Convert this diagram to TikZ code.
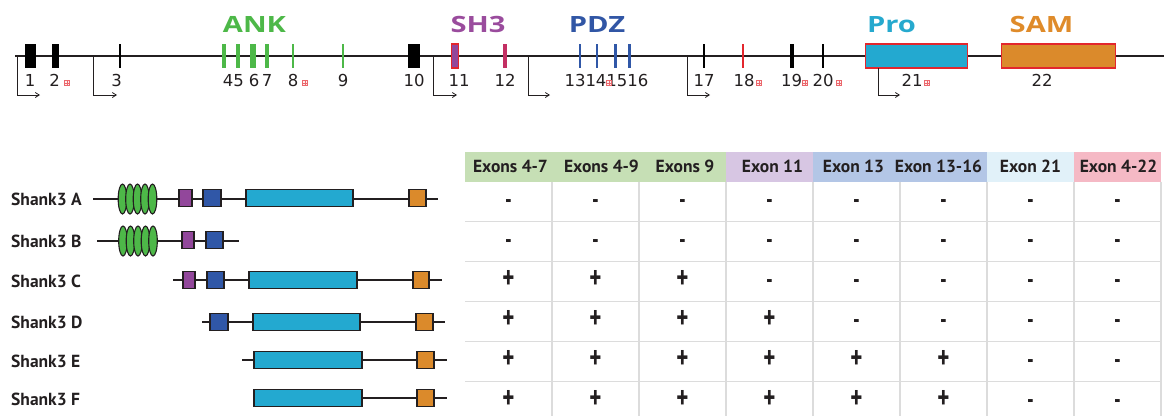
\documentclass[tikz,border=0pt]{standalone}
\usepackage{fontspec}
\setmainfont{PT Sans}
\newfontfamily\domfont[FakeStretch=1.3]{Open Sans}
\newfontfamily\numfont{DejaVu Sans}
\newfontfamily\pmfont[FakeStretch=0.72]{PT Sans}
\usetikzlibrary{shapes.geometric,arrows.meta}
\definecolor{ankG}{HTML}{4DB848}
\definecolor{sh3P}{HTML}{92479B}
\definecolor{pdzB}{HTML}{3057A7}
\definecolor{proC}{HTML}{23A9D0}
\definecolor{samO}{HTML}{DB8A2B}
\definecolor{exRed}{HTML}{E3262D}
\definecolor{exMag}{HTML}{C32F63}
\definecolor{hG}{HTML}{C6DFB5}
\definecolor{hP}{HTML}{D7C6E3}
\definecolor{hB}{HTML}{B3C6E6}
\definecolor{hL}{HTML}{E1F1F9}
\definecolor{hK}{HTML}{F5B9C5}
\definecolor{gridc}{HTML}{DCDCDC}
\definecolor{ink}{HTML}{231F20}
\definecolor{lANK}{HTML}{4DB848}
\definecolor{lSH3}{HTML}{9A4C9D}
\definecolor{lPDZ}{HTML}{3156A5}
\definecolor{lPro}{HTML}{26A9CE}
\definecolor{lSAM}{HTML}{DF8B2A}
\begin{document}
\begin{tikzpicture}[x=1pt,y=-1pt,
  gline/.style={line width=1.2pt, draw=ink},
  exon/.style={rectangle, inner sep=0pt, minimum height=24pt, draw=none},
  redexon/.style={exon, draw=exRed, line width=1.1pt},
  domlab/.style={font=\domfont\bfseries\fontsize{22.4}{24}\selectfont, anchor=base, inner sep=0pt},
  exnum/.style={font=\numfont\fontsize{16.5}{18}\selectfont, anchor=base, inner sep=0pt, text=ink},
  redsq/.style={rectangle, draw=exRed!70, fill=exRed!8, line width=0.4pt, minimum size=5pt, inner sep=0pt,
    path picture={\draw[exRed!70, line width=0.4pt] (path picture bounding box.north) -- (path picture bounding box.south) (path picture bounding box.west) -- (path picture bounding box.east);}},
  prom/.style={-{Straight Barb[length=4pt,width=5pt]}, line width=0.8pt, draw=ink},
  pline/.style={line width=1.2pt, draw=ink},
  pbox/.style={rectangle, draw=ink, line width=1.3pt, inner sep=0pt, minimum height=17pt},
  oval/.style={ellipse, draw=ink, fill=ankG, line width=1.1pt, inner sep=0pt, minimum width=8.6pt, minimum height=30pt},
  rowlab/.style={font=\bfseries\fontsize{17.5}{19}\selectfont, anchor=west, inner sep=0pt, text=ink},
  hdr/.style={font=\bfseries\fontsize{17.5}{19}\selectfont, anchor=base, inner sep=0pt, text=ink},
  gridl/.style={draw=gridc, line width=1.2pt},
  pmbase/.style={inner sep=0pt, text height=0.66em, text depth=0pt, text=ink},
  plus/.style={pmbase, font=\pmfont\bfseries\fontsize{32}{34}\selectfont},
  minus/.style={pmbase, font=\pmfont\bfseries\fontsize{26}{28}\selectfont}
]
\useasboundingbox (0,0) rectangle (1164,416);

% ---------------- gene structure ----------------
\coordinate (gL) at (15,56);
\coordinate (gR) at (1164,56);
\draw[gline] (gL) -- (gR);

\node[exon, fill=black, minimum width=11pt] (e1) at (30.5,56) {};
\node[exon, fill=black, minimum width=7pt] (e2) at (55.5,56) {};
\node[exon, fill=black, minimum width=1.6pt] (e3) at (120,56) {};
\node[exon, fill=ankG, minimum width=4pt] (e4) at (224,56) {};
\node[exon, fill=ankG, minimum width=4pt] (e5) at (238,56) {};
\node[exon, fill=ankG, minimum width=6pt] (e6) at (253,56) {};
\node[exon, fill=ankG, minimum width=3.5pt] (e7) at (267,56) {};
\node[exon, fill=ankG, minimum width=2.5pt] (e8) at (293,56) {};
\node[exon, fill=ankG, minimum width=2.5pt] (e9) at (343,56) {};
\node[exon, fill=black, minimum width=12pt] (e10) at (414,56) {};
\node[redexon, fill=sh3P, minimum width=7pt] (e11) at (455,56) {};
\node[exon, fill=exMag, minimum width=4.5pt] (e12) at (505,56) {};
\node[exon, fill=pdzB, minimum width=2pt] (e13) at (580,56) {};
\node[exon, fill=pdzB, minimum width=2pt] (e14) at (597,56) {};
\node[exon, fill=pdzB, minimum width=3pt] (e15) at (615,56) {};
\node[exon, fill=pdzB, minimum width=3pt] (e16) at (629,56) {};
\node[exon, fill=black, minimum width=2.5pt] (e17) at (704,56) {};
\node[exon, fill=exRed, minimum width=2pt] (e18) at (743,56) {};
\node[exon, fill=black, minimum width=4pt] (e19) at (792,56) {};
\node[exon, fill=black, minimum width=2.5pt] (e20) at (823,56) {};
\node[redexon, fill=proC, minimum width=102pt] (e21) at (916.5,56) {};
\node[redexon, fill=samO, minimum width=114pt] (e22) at (1058.5,56) {};

% domain labels
\node[domlab, text=lANK] (dANK) at (254.5,32) {ANK};
\node[domlab, text=lSH3] (dSH3) at (478,32) {SH3};
\node[domlab, text=lPDZ] (dPDZ) at (597,32) {PDZ};
\node[domlab, text=lPro] (dPro) at (891.5,32) {Pro};
\node[domlab, text=lSAM] (dSAM) at (1041.5,32) {SAM};

% exon numbers
\node[exnum] (n1) at (30,86) {1};
\node[exnum] (n2) at (54.5,86) {2};
\node[exnum] (n3) at (116.5,86) {3};
\node[exnum] (n4) at (228,86) {4};
\node[exnum] (n5) at (238.5,86) {5};
\node[exnum] (n6) at (254,86) {6};
\node[exnum] (n7) at (267,86) {7};
\node[exnum] (n8) at (293,86) {8};
\node[exnum] (n9) at (343,86) {9};
\node[exnum] (n10) at (414,86) {10};
\node[exnum] (n11) at (459,86) {11};
\node[exnum] (n12) at (505,86) {12};
\node[exnum] (n13) at (606.5,86) {13141516};
\node[exnum] (n17) at (704,86) {17};
\node[exnum] (n18) at (744,86) {18};
\node[exnum] (n19) at (791.5,86) {19};
\node[exnum] (n20) at (823,86) {20};
\node[exnum] (n21) at (912,86) {21};
\node[exnum] (n22) at (1042,86) {22};

% small red markers
\node[redsq] (r2) at (67,83) {};
\node[redsq] (r8) at (305,83) {};
\node[redsq] (r14) at (609,83) {};
\node[redsq] (r18) at (759,83) {};
\node[redsq] (r19) at (805,83) {};
\node[redsq] (r20) at (839,83) {};
\node[redsq] (r21) at (927,83) {};

% promoter arrows
\coordinate (p1a) at (17,56);  \coordinate (p1b) at (40,95);
\coordinate (p2a) at (93,56);  \coordinate (p2b) at (117,95);
\coordinate (p3a) at (433,56); \coordinate (p3b) at (457,95);
\coordinate (p4a) at (528,56); \coordinate (p4b) at (550,95);
\coordinate (p5a) at (687,56); \coordinate (p5b) at (710,95);
\coordinate (p6a) at (878,68); \coordinate (p6b) at (900,95);
\foreach \k in {1,...,6}{\draw[prom] (p\k a) |- (p\k b);}

% ---------------- protein isoforms ----------------
\node[rowlab] (lA) at (11,199) {Shank3 A};
\node[rowlab] (lB) at (11,241) {Shank3 B};
\node[rowlab] (lC) at (11,281) {Shank3 C};
\node[rowlab] (lD) at (11,322) {Shank3 D};
\node[rowlab] (lE) at (11,361) {Shank3 E};
\node[rowlab] (lF) at (11,399) {Shank3 F};

% A
\coordinate (aL) at (93,199); \coordinate (aR) at (438,199);
\draw[pline] (aL) -- (aR);
\foreach \i/\x in {1/122.5,2/130,3/137.5,4/145,5/152.5}{\node[oval] (aO\i) at (\x,199) {};}
\node[pbox, fill=sh3P, minimum width=13pt] (aS) at (185.5,198) {};
\node[pbox, fill=pdzB, minimum width=18pt] (aP) at (212,198) {};
\node[pbox, fill=proC, minimum width=107pt] (aR2) at (299.5,198) {};
\node[pbox, fill=samO, minimum width=17pt] (aM) at (417.5,198) {};
% B
\coordinate (bL) at (97,241); \coordinate (bR) at (239,241);
\draw[pline] (bL) -- (bR);
\foreach \i/\x in {1/123,2/130.5,3/138,4/145.5,5/153}{\node[oval] (bO\i) at (\x,241) {};}
\node[pbox, fill=sh3P, minimum width=12pt] (bS) at (188,240) {};
\node[pbox, fill=pdzB, minimum width=17pt] (bP) at (214.5,240) {};
% C
\coordinate (cL) at (173,280); \coordinate (cR) at (442,280);
\draw[pline] (cL) -- (cR);
\node[pbox, fill=sh3P, minimum width=12pt] (cS) at (189,280) {};
\node[pbox, fill=pdzB, minimum width=17pt] (cP) at (215.5,280) {};
\node[pbox, fill=proC, minimum width=108pt] (cR2) at (303,280) {};
\node[pbox, fill=samO, minimum width=16pt] (cM) at (421,280) {};
% D
\coordinate (dL) at (202,322); \coordinate (dR) at (445,322);
\draw[pline] (dL) -- (dR);
\node[pbox, fill=pdzB, minimum width=18pt] (dP) at (219,322) {};
\node[pbox, fill=proC, minimum width=107pt] (dR2) at (306.5,322) {};
\node[pbox, fill=samO, minimum width=17pt] (dM) at (424.5,322) {};
% E
\coordinate (eL) at (242,360); \coordinate (eR) at (447,360);
\draw[pline] (eL) -- (eR);
\node[pbox, fill=proC, minimum width=108pt] (eR2) at (308,360) {};
\node[pbox, fill=samO, minimum width=17pt] (eM) at (425.5,360) {};
% F
\coordinate (fR) at (447,398);
\node[pbox, fill=proC, minimum width=108pt] (fR2) at (308,398) {};
\draw[pline] (fR2.east) -- (fR);
\node[pbox, fill=samO, minimum width=17pt] (fM) at (425.5,398) {};

% ---------------- table ----------------
\fill[hG] (465,151.7) rectangle (726,181.7);
\fill[hP] (726,151.7) rectangle (813,181.7);
\fill[hB] (813,151.7) rectangle (987,181.7);
\fill[hL] (987,151.7) rectangle (1074,181.7);
\fill[hK] (1074,151.7) rectangle (1161,181.7);

\foreach \x in {552,639,726,813,900,987,1074,1161}{\draw[gridl] (\x,181.7) -- (\x,416);}
\foreach \y in {221.7,261.7,301.7,341.7,381.7}{\draw[gridl] (465,\y) -- (1161,\y);}

\node[hdr] (h1) at (510.5,172) {Exons 4-7};
\node[hdr] (h2) at (601.5,172) {Exons 4-9};
\node[hdr] (h3) at (685,172) {Exons 9};
\node[hdr] (h4) at (772.5,172) {Exon 11};
\node[hdr] (h5) at (853.5,172) {Exon 13};
\node[hdr] (h6) at (938.5,172) {Exon 13-16};
\node[hdr] (h7) at (1030.5,172) {Exon 21};
\node[hdr] (h8) at (1118.5,172) {Exon 4-22};

\foreach \r/\yc/\vals in {1/204.7/{minus,minus,minus,minus,minus,minus,minus,minus},2/244.7/{minus,minus,minus,minus,minus,minus,minus,minus},3/284.7/{plus,plus,plus,minus,minus,minus,minus,minus},4/324.7/{plus,plus,plus,plus,minus,minus,minus,minus},5/364.7/{plus,plus,plus,plus,plus,plus,minus,minus},6/404.7/{plus,plus,plus,plus,plus,plus,minus,minus}}{
  \foreach \v [count=\c] in \vals {
    \ifnum\pdfstrcmp{\v}{plus}=0
      \node[plus] (t\r-\c) at ({421.5+87*\c},\yc) {+};
    \else
      \node[minus] (t\r-\c) at ({421.5+87*\c},\yc) {-};
    \fi
  }
}
\end{tikzpicture}
\end{document}
